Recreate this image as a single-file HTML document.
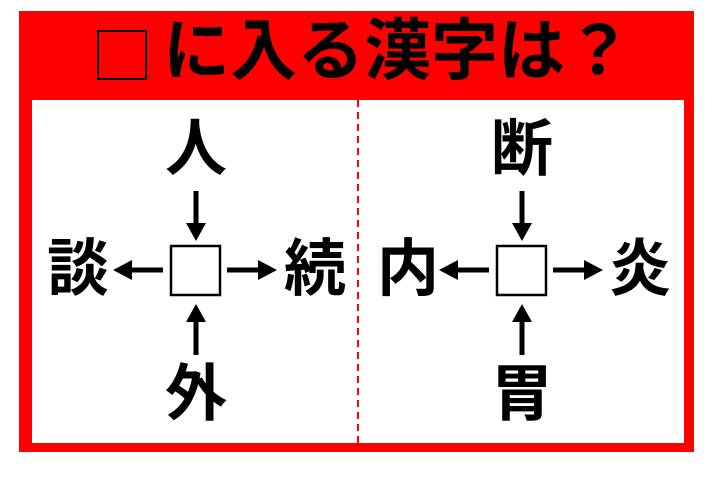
<!DOCTYPE html>
<html><head><meta charset="utf-8"><style>
body{margin:0;width:720px;height:493px;background:#fff;position:relative;overflow:hidden;font-family:"Liberation Sans","Noto Sans CJK JP",sans-serif}
.k{position:absolute;font-weight:bold;font-size:62px;line-height:62px;width:80px;text-align:center;color:#000}
</style></head><body>
<div style="position:absolute;left:19px;top:11px;width:675px;height:441px;background:#f00"></div>
<div style="position:absolute;left:32px;top:100px;width:652px;height:343px;background:#fff"></div>
<div style="position:absolute;left:97px;top:30px;width:46px;height:46px;border:2px solid #000"></div>
<div style="position:absolute;left:163px;top:18px;font-size:67px;line-height:68px;font-weight:bold;color:#000;white-space:nowrap">に入る漢字は？</div>
<svg style="position:absolute;left:0;top:0" width="720" height="493">
<line x1="358" y1="100" x2="358" y2="443" stroke="#f00" stroke-width="2" stroke-dasharray="7,5"/>
<g fill="#000" stroke="#000">
<rect x="171" y="246" width="49" height="49" fill="#fff" stroke-width="2.5"/>
<rect x="497" y="246" width="49" height="49" fill="#fff" stroke-width="2.5"/>
</g>
<g stroke="#000" stroke-width="5">
<line x1="196" y1="191" x2="196" y2="225"/><line x1="196" y1="355" x2="196" y2="320"/>
<line x1="163" y1="270" x2="130" y2="270"/><line x1="227" y1="270" x2="260" y2="270"/>
<line x1="522" y1="191" x2="522" y2="225"/><line x1="522" y1="355" x2="522" y2="320"/>
<line x1="489" y1="270" x2="456" y2="270"/><line x1="553" y1="270" x2="586" y2="270"/>
</g>
<g fill="#000">
<polygon points="186,223 206,223 196,241"/><polygon points="186,322 206,322 196,304"/>
<polygon points="132,260 132,280 113,270"/><polygon points="258,260 258,280 277,270"/>
<polygon points="512,223 532,223 522,241"/><polygon points="512,322 532,322 522,304"/>
<polygon points="458,260 458,280 439,270"/><polygon points="584,260 584,280 603,270"/>
</g>
</svg>
<div class="k" style="left:156px;top:119px">人</div>
<div class="k" style="left:38px;top:239px">談</div>
<div class="k" style="left:275px;top:239px">続</div>
<div class="k" style="left:156px;top:364px">外</div>
<div class="k" style="left:482px;top:119px">断</div>
<div class="k" style="left:368px;top:239px">内</div>
<div class="k" style="left:600px;top:239px">炎</div>
<div class="k" style="left:482px;top:364px">胃</div>
</body></html>
